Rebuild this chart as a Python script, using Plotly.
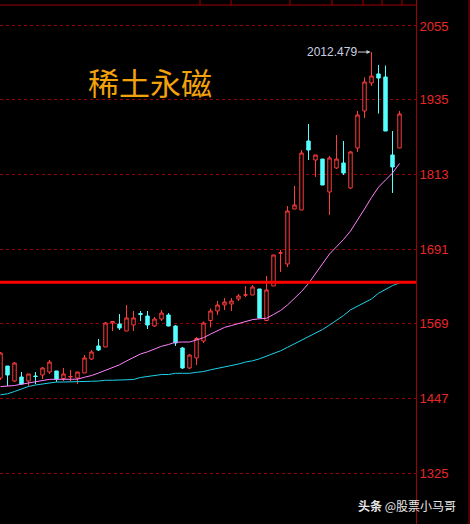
import plotly.graph_objects as go

# ---- data ----
day_index = list(range(58))
opens = [1480.5, 1500.1, 1475.6, 1482.2, 1475.6, 1483.8, 1485.4, 1490.3, 1492.0, 1479.7,
         1482.2, 1480.5, 1488.7, 1511.5, 1532.8, 1531.1, 1570.3, 1568.7, 1557.2, 1567.0,
         1585.8, 1581.7, 1565.4, 1576.8, 1583.4, 1565.4, 1529.5, 1496.9, 1513.2, 1540.9,
         1574.4, 1589.9, 1599.7, 1601.3, 1609.5, 1615.7, 1616.0, 1625.8, 1574.4, 1630.7,
         1684.2, 1666.6, 1756.3, 1754.7, 1867.3, 1836.3, 1837.9, 1784.1, 1823.3, 1831.4,
         1790.6, 1855.9, 1916.3, 1962.0, 1976.7, 1971.8, 1844.5, 1855.9]
highs = [1523.0, 1500.1, 1506.6, 1490.3, 1487.1, 1490.3, 1498.5, 1509.9, 1492.0, 1496.9,
         1493.6, 1490.3, 1518.1, 1526.2, 1544.2, 1571.9, 1573.6, 1585.0, 1599.7, 1589.9,
         1589.9, 1589.9, 1580.1, 1591.5, 1586.6, 1567.0, 1531.1, 1519.7, 1547.5, 1572.7,
         1594.0, 1606.2, 1611.1, 1611.1, 1617.6, 1630.7, 1632.3, 1625.8, 1647.0, 1681.3,
         1689.4, 1761.2, 1793.9, 1852.6, 1895.1, 1844.5, 1837.9, 1842.8, 1877.1, 1867.3,
         1851.0, 1916.3, 1971.0, 2012.479, 1991.4, 1990.5, 1883.6, 1916.3]
lows = [1477.3, 1467.5, 1474.0, 1470.0, 1467.5, 1470.7, 1478.9, 1487.1, 1474.0, 1475.6,
        1475.6, 1470.7, 1488.7, 1509.9, 1524.6, 1531.1, 1557.2, 1558.9, 1557.2, 1557.2,
        1573.6, 1560.5, 1563.8, 1573.6, 1565.0, 1532.8, 1495.2, 1495.2, 1501.8, 1537.7,
        1563.0, 1583.4, 1591.5, 1589.9, 1606.2, 1612.7, 1616.0, 1578.5, 1573.6, 1630.7,
        1653.5, 1661.7, 1756.3, 1754.7, 1836.3, 1808.6, 1795.5, 1746.6, 1821.6, 1811.8,
        1789.0, 1849.4, 1904.9, 1957.1, 1912.2, 1883.6, 1782.5, 1855.9]
closes = [1521.3, 1485.4, 1505.0, 1470.7, 1487.1, 1483.0, 1496.9, 1506.6, 1478.9, 1487.1,
          1483.0, 1490.3, 1513.2, 1523.0, 1526.2, 1570.3, 1572.7, 1562.1, 1578.5, 1578.5,
          1584.2, 1567.0, 1576.8, 1586.6, 1565.4, 1537.7, 1496.9, 1518.1, 1545.0, 1570.3,
          1589.9, 1599.7, 1604.6, 1606.2, 1614.4, 1616.3, 1629.1, 1578.5, 1624.2, 1681.3,
          1684.9, 1753.1, 1762.9, 1847.7, 1852.6, 1844.5, 1795.5, 1839.6, 1837.9, 1815.1,
          1849.4, 1909.8, 1963.6, 1973.4, 1970.1, 1883.6, 1824.9, 1911.4]
ma_short = [1466.5, 1467.2, 1468.3, 1470.4, 1472.4, 1474.8, 1477.3, 1478.4, 1478.4, 1478.4,
            1478.4, 1478.6, 1481.8, 1484.6, 1488.7, 1492.8, 1497.3, 1502.1, 1508.3, 1514.5,
            1519.7, 1523.3, 1527.9, 1532.3, 1535.2, 1539.0, 1539.3, 1539.3, 1542.6, 1546.3,
            1552.2, 1558.1, 1563.1, 1566.2, 1569.6, 1572.7, 1575.8, 1577.2, 1578.0, 1584.2,
            1590.7, 1599.7, 1610.3, 1621.7, 1634.8, 1651.1, 1667.4, 1682.9, 1694.7, 1706.6,
            1720.4, 1737.6, 1756.3, 1775.1, 1791.9, 1803.7, 1815.1, 1830.6]
ma_long = [1453.1, 1454.8, 1458.5, 1462.9, 1466.7, 1469.1, 1470.9, 1472.7, 1474.0, 1474.0,
           1474.0, 1474.0, 1474.0, 1475.2, 1475.6, 1476.9, 1476.9, 1476.9, 1476.9, 1478.1,
           1481.4, 1483.3, 1485.1, 1486.2, 1486.2, 1488.2, 1488.2, 1488.2, 1489.8, 1491.1,
           1493.9, 1496.0, 1498.2, 1500.1, 1503.4, 1506.6, 1508.6, 1511.9, 1516.1, 1520.0,
           1524.9, 1530.6, 1536.3, 1542.1, 1547.8, 1553.6, 1559.7, 1567.0, 1574.7, 1582.5,
           1591.8, 1597.6, 1603.3, 1609.5, 1618.9, 1625.8, 1631.3, 1635.9]
tick_values = [2055, 1935, 1813, 1691, 1569, 1447, 1325]
tick_labels = ["2055", "1935", "1813", "1691", "1569", "1447", "1325"]
support_level = 1636.7
peak_index = 53
peak_value = 2012.479
title_text = "稀土永磁"
watermark = "<b>头条</b> @股票小马哥"

RED = "#FF3C3C"
CYAN = "#54FFFF"
DARKRED = "#A00000"

fig = go.Figure()
fig.add_trace(go.Candlestick(
    x=day_index, open=opens, high=highs, low=lows, close=closes,
    increasing=dict(line=dict(color=RED, width=1), fillcolor="black"),
    decreasing=dict(line=dict(color=CYAN, width=1), fillcolor=CYAN),
    whiskerwidth=0, showlegend=False, hoverinfo="skip"))
fig.add_trace(go.Scatter(x=day_index, y=ma_short, mode="lines",
                         line=dict(color="#FF80FF", width=1), showlegend=False, hoverinfo="skip"))
fig.add_trace(go.Scatter(x=day_index, y=ma_long, mode="lines",
                         line=dict(color="#20D0E8", width=1), showlegend=False, hoverinfo="skip"))

shapes = [
    dict(type="line", xref="paper", yref="y", x0=0, x1=1, y0=support_level, y1=support_level,
         line=dict(color="#FF0000", width=3)),
    # header baseline and dividers
    dict(type="line", xref="paper", yref="paper", x0=0, x1=1, y0=1 - 5 / 524, y1=1 - 5 / 524,
         line=dict(color=DARKRED, width=1)),
    dict(type="line", xref="paper", yref="paper", x0=469 / 416, x1=469 / 416, y0=0, y1=1,
         line=dict(color=DARKRED, width=1)),
]
for px in [200, 231, 290, 332, 363, 382, 402]:
    shapes.append(dict(type="line", xref="paper", yref="paper", x0=px / 416, x1=px / 416,
                       y0=1 - 5 / 524, y1=1, line=dict(color=DARKRED, width=1)))

annotations = [
    dict(x=peak_index, y=peak_value, xref="x", yref="y", text=f"{peak_value:.3f}",
         showarrow=True, ax=-40, ay=0, arrowhead=2, arrowsize=0.8, arrowwidth=1,
         arrowcolor="#C8CCD8", standoff=1,
         font=dict(family="Liberation Sans, Arial", size=12, color="#C8D0E0")),
    dict(x=150 / 416, y=1 - 82 / 524, xref="paper", yref="paper", text=title_text,
         showarrow=False, xanchor="center", yanchor="middle",
         font=dict(family="Noto Sans CJK SC", size=31, color="#F2A20A")),
    dict(x=458 / 416, y=1 - 505 / 524, xref="paper", yref="paper", text=watermark,
         showarrow=False, xanchor="right", yanchor="middle",
         font=dict(family="Noto Sans CJK SC", size=12, color="#E8E8E8")),
]

fig.update_layout(
    width=470, height=524,
    margin=dict(l=0, r=54, t=0, b=0),
    paper_bgcolor="black", plot_bgcolor="black",
    shapes=shapes, annotations=annotations,
    xaxis=dict(range=[-0.5 / 7, -0.5 / 7 + 416 / 7], showgrid=False, zeroline=False,
               showticklabels=False, rangeslider=dict(visible=False), fixedrange=True),
    yaxis=dict(range=[1242.3, 2097.4], side="right", tickvals=tick_values, ticktext=tick_labels,
               showgrid=True, gridcolor="#990000", griddash="dot", gridwidth=1,
               zeroline=False, showline=True, linecolor=DARKRED, linewidth=1,
               ticks="", tickfont=dict(family="Liberation Sans, Arial", size=13, color="#E82828"),
               fixedrange=True),
)

fig.write_html("out.html", config={"displayModeBar": False},
               post_script="document.body.style.margin='0';document.body.style.padding='0';"
                           "document.body.style.background='black';")
